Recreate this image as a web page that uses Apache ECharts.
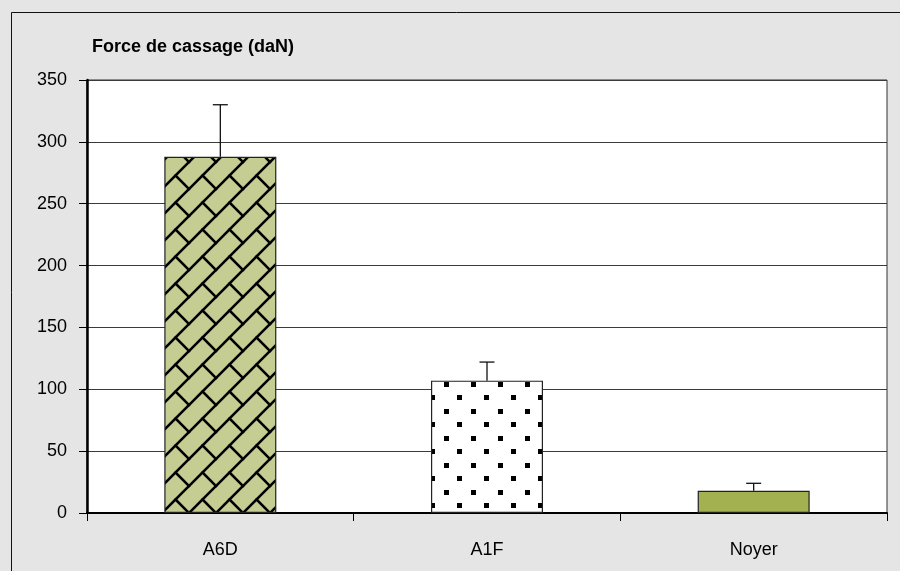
<!DOCTYPE html>
<html>
<head>
<meta charset="utf-8">
<script src="https://cdn.jsdelivr.net/npm/echarts@6/dist/echarts.min.js"></script>
<style>
html,body{margin:0;padding:0;background:#e5e5e5;}
#c{width:900px;height:571px;}
</style>
</head>
<body>
<div id="c"></div>
<script>
const categories = ['A6D', 'A1F', 'Noyer'];
const values = [288, 107, 18];
const errorTop = [330, 122, 24];
const yTicks = { min: 0, max: 350, interval: 50 };
const title = 'Force de cassage (daN)';

function brickPattern() {
  const s = 27;
  const c = document.createElement('canvas');
  c.width = s; c.height = s;
  const g = c.getContext('2d');
  g.fillStyle = '#c6cd92';
  g.fillRect(0, 0, s, s);
  g.strokeStyle = '#000';
  g.lineWidth = 2.6;
  g.lineCap = 'square';
  [[-s, s, 0, 0], [0, s, s, 0], [0, 2 * s, 2 * s, 0]].forEach(l => {
    g.beginPath(); g.moveTo(l[0], l[1]); g.lineTo(l[2], l[3]); g.stroke();
  });
  [[s / 2, s / 2, s, s], [s / 2 - s, s / 2, 0, s], [s / 2, s / 2 - s, s, 0], [s / 2 - s, s / 2 - s, 0, 0]].forEach(l => {
    g.beginPath(); g.moveTo(l[0], l[1]); g.lineTo(l[2], l[3]); g.stroke();
  });
  return c;
}
function dotPattern() {
  const s = 27;
  const c = document.createElement('canvas');
  c.width = s; c.height = s;
  const g = c.getContext('2d');
  g.fillStyle = '#fff';
  g.fillRect(0, 0, s, s);
  g.fillStyle = '#000';
  g.fillRect(12, 4, 5, 5);
  g.fillRect(25, 17, 5, 5);
  g.fillRect(-2, 17, 5, 5);
  return c;
}

const fills = [
  { image: brickPattern(), repeat: 'repeat' },
  { image: dotPattern(), repeat: 'repeat' },
  '#a4b150'
];

const FONT = '"Liberation Sans", Arial, Helvetica, sans-serif';
const chart = echarts.init(document.getElementById('c'), null, { renderer: 'canvas' });
chart.setOption({
  backgroundColor: '#e5e5e5',
  animation: false,
  graphic: [
    { type: 'rect', shape: { x: 11.5, y: 12.5, width: 1000, height: 1000 }, style: { fill: 'none', stroke: '#111', lineWidth: 1 }, z: 100 },
    { type: 'text', left: 92, top: 38, style: { text: title, font: 'bold 18px ' + FONT, fill: '#000' } }
  ],
  grid: { left: 87, right: 13, top: 80, bottom: 58, show: true, backgroundColor: '#fff', borderColor: '#333', borderWidth: 1 },
  xAxis: {
    type: 'category',
    data: categories,
    axisLine: { lineStyle: { color: '#000', width: 2 } },
    axisTick: { show: true, length: 8, interval: 0, lineStyle: { color: '#000', width: 1 } },
    axisLabel: { color: '#000', fontSize: 18, fontFamily: FONT, margin: 28 },
    splitLine: { show: false }
  },
  yAxis: {
    type: 'value',
    min: yTicks.min, max: yTicks.max, interval: yTicks.interval,
    axisLine: { show: true, lineStyle: { color: '#000', width: 2.5 } },
    axisTick: { show: true, length: 8, lineStyle: { color: '#000', width: 1 } },
    axisLabel: { color: '#000', fontSize: 18, fontFamily: FONT, margin: 20, padding: [4, 0, 0, 0] },
    splitLine: { show: true, lineStyle: { color: '#3a3a3a', width: 1.2 } }
  },
  series: [
    {
      type: 'bar',
      barWidth: '42%',
      data: values.map((v, i) => ({ value: v, itemStyle: { color: fills[i] } })),
      itemStyle: { borderColor: '#222', borderWidth: 1.2 },
      z: 3
    },
    {
      type: 'custom',
      data: values.map((v, i) => [i, v, errorTop[i]]),
      renderItem: function (params, api) {
        const x = api.coord([api.value(0), api.value(1)])[0];
        const yb = api.coord([api.value(0), api.value(1)])[1];
        const yt = api.coord([api.value(0), api.value(2)])[1];
        return {
          type: 'group',
          children: [
            { type: 'line', shape: { x1: x, y1: yb, x2: x, y2: yt }, style: { stroke: '#111', lineWidth: 1.3 } },
            { type: 'line', shape: { x1: x - 7.5, y1: yt, x2: x + 7.5, y2: yt }, style: { stroke: '#111', lineWidth: 1.3 } }
          ]
        };
      },
      z: 4
    }
  ]
});
</script>
</body>
</html>
